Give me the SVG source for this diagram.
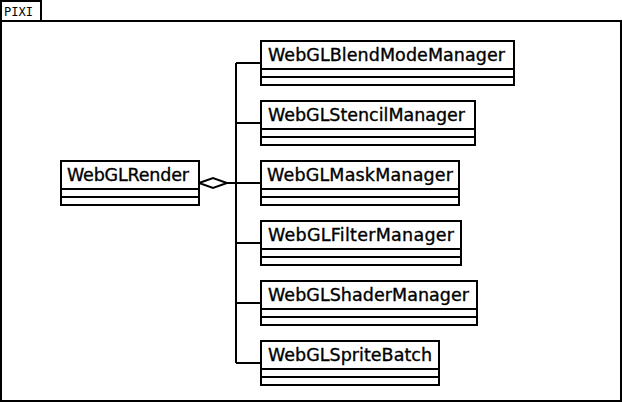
<svg xmlns="http://www.w3.org/2000/svg" width="622" height="402" viewBox="0 0 622 402">
<style>
.box{fill:#fff;stroke:#000;stroke-width:2}
.ln{fill:none;stroke:#000;stroke-width:2}
.t{font-family:"DejaVu Sans",sans-serif;font-size:17.5px;fill:#000;stroke:#000;stroke-width:0.35}
.pk{font-family:"DejaVu Sans Mono",monospace;font-size:12.5px;fill:#000}
</style>
<rect width="622" height="402" fill="#fff"/>
<g id="pkg">
<rect class="box" x="1" y="1" width="40" height="20"/>
<rect class="box" x="1" y="21" width="620" height="380"/>
<text class="pk" x="4" y="16" textLength="29" lengthAdjust="spacingAndGlyphs">PIXI</text>
</g>
<g id="connectors">
<path class="ln" d="M236 63V363M236 63H260M236 123H260M236 183H260M236 243H260M236 303H260M236 363H260M227 183H236"/>
<polygon class="box" points="199,183 213,178 227,183 213,188"/>
</g>
<g id="WebGLRender">
<rect class="box" x="61" y="161" width="138" height="44"/>
<path class="ln" d="M61 189H199M61 197H199"/>
<text class="t" x="67" y="181" textLength="122">WebGLRender</text>
</g>
<g id="WebGLBlendModeManager">
<rect class="box" x="261" y="41" width="253" height="44"/>
<path class="ln" d="M261 69H514M261 77H514"/>
<text class="t" x="268" y="61" textLength="237">WebGLBlendModeManager</text>
</g>
<g id="WebGLStencilManager">
<rect class="box" x="261" y="101" width="214" height="44"/>
<path class="ln" d="M261 129H475M261 137H475"/>
<text class="t" x="268" y="121" textLength="197">WebGLStencilManager</text>
</g>
<g id="WebGLMaskManager">
<rect class="box" x="261" y="161" width="198" height="44"/>
<path class="ln" d="M261 189H459M261 197H459"/>
<text class="t" x="267" y="181" textLength="186">WebGLMaskManager</text>
</g>
<g id="WebGLFilterManager">
<rect class="box" x="261" y="221" width="200" height="44"/>
<path class="ln" d="M261 249H461M261 257H461"/>
<text class="t" x="268" y="241" textLength="186">WebGLFilterManager</text>
</g>
<g id="WebGLShaderManager">
<rect class="box" x="261" y="281" width="216" height="44"/>
<path class="ln" d="M261 309H477M261 317H477"/>
<text class="t" x="268" y="301" textLength="201">WebGLShaderManager</text>
</g>
<g id="WebGLSpriteBatch">
<rect class="box" x="261" y="341" width="178" height="44"/>
<path class="ln" d="M261 369H439M261 377H439"/>
<text class="t" x="268" y="361" textLength="164">WebGLSpriteBatch</text>
</g>
</svg>
